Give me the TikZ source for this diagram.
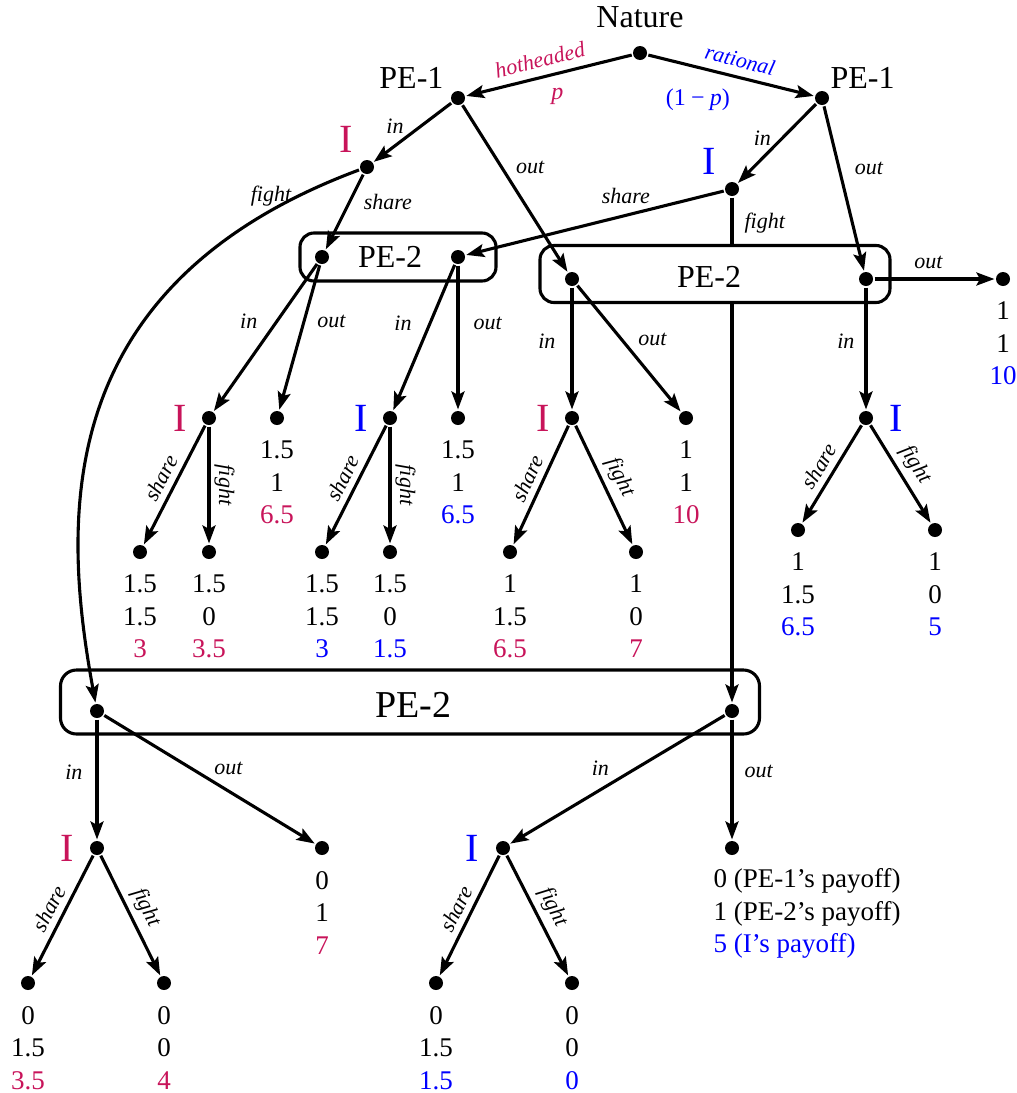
\documentclass[tikz,border=0pt]{standalone}
\usepackage{fontspec}
\setmainfont{Liberation Serif}
\usetikzlibrary{arrows.meta,positioning}
\definecolor{HotRed}{RGB}{200,20,90}
\definecolor{RatBlue}{RGB}{0,0,255}

\begin{document}
\begin{tikzpicture}[
    x=1pt, y=-1pt,
    line width=3.1pt,
    dot/.style={circle, fill, inner sep=0pt, minimum size=14pt},
    player/.style={font=\fontsize{32}{36}\selectfont, inner sep=2pt},
    agent/.style={font=\fontsize{40}{44}\selectfont, inner sep=2pt},
    act/.style={font=\fontsize{22}{26}\selectfont\itshape, inner sep=2pt},
    prob/.style={font=\fontsize{24}{28}\selectfont, inner sep=2pt},
    pay/.style={font=\fontsize{27}{32.5}\selectfont, align=center, inner sep=0pt},
    infoset/.style={draw, rounded corners=14pt, inner sep=0pt},
    arr/.style={-{Stealth[length=18pt, width=13pt, inset=3.5pt]}}
]
\useasboundingbox (0,0) rectangle (1017,1093);

% information sets of PE-2
\node[infoset, minimum width=196pt, minimum height=48pt] (s1) at (398,257) {};
\node[infoset, minimum width=350pt, minimum height=57pt] (s2) at (715,274) {};
\node[infoset, rounded corners=16pt, minimum width=699pt, minimum height=64pt] (s3) at (410,702) {};
\node[player] (s1lab) at ([xshift=-8pt]s1.center) {PE-2};
\node[player] (s2lab) at ([xshift=-6pt, yshift=-3pt]s2.center) {PE-2};
\node[player, font=\fontsize{38}{42}\selectfont] (s3lab) at ([xshift=3pt, yshift=-3pt]s3.center) {PE-2};

% decision and end points
\node[dot] (root) at (640,53) {};
\node[dot] (a) at (458,98) {};
\node[dot] (b) at (822,98) {};
\node[dot] (ia) at (367,167) {};
\node[dot] (ib) at (732,189) {};
\node[dot] (s1l) at (322,257) {};
\node[dot] (s1r) at (458,257) {};
\node[dot] (s2l) at (572,279) {};
\node[dot] (s2r) at (866,279) {};
\node[dot] (t0) at (1003,279) {};
\node[dot] (i1) at (209,418) {};
\node[dot] (o1) at (277,418) {};
\node[dot] (i2) at (390,418) {};
\node[dot] (o2) at (458,418) {};
\node[dot] (i3) at (572,418) {};
\node[dot] (o3) at (686,418) {};
\node[dot] (i4) at (866,418) {};
\node[dot] (l1) at (140,552) {};
\node[dot] (l2) at (209,552) {};
\node[dot] (l3) at (322,552) {};
\node[dot] (l4) at (390,552) {};
\node[dot] (l5) at (510,552) {};
\node[dot] (l6) at (636,552) {};
\node[dot] (l7) at (798,530) {};
\node[dot] (l8) at (935,530) {};
\node[dot] (s3l) at (97,711) {};
\node[dot] (s3r) at (732,711) {};
\node[dot] (i5) at (97,848) {};
\node[dot] (o5) at (322,848) {};
\node[dot] (i6) at (503,848) {};
\node[dot] (o6) at (732,848) {};
\node[dot] (l9) at (28,983) {};
\node[dot] (l10) at (164,983) {};
\node[dot] (l11) at (436,983) {};
\node[dot] (l12) at (572,983) {};

% players
\node[player, above=13pt of root] (natlab) {Nature};
\node[player, above left=0pt and 5pt of a] (alab) {PE-1};
\node[player, above right=0pt and -1pt of b] (blab) {PE-1};
\node[agent, above left=5pt and 5pt of ia, text=HotRed] (ialab) {I};
\node[agent, above left=5pt and 7pt of ib, text=RatBlue] (iblab) {I};
\node[agent, left=10pt of i1, text=HotRed] (i1lab) {I};
\node[agent, left=10pt of i2, text=RatBlue] (i2lab) {I};
\node[agent, left=10pt of i3, text=HotRed] (i3lab) {I};
\node[agent, right=11pt of i4, text=RatBlue] (i4lab) {I};
\node[agent, left=11pt of i5, text=HotRed] (i5lab) {I};
\node[agent, left=12pt of i6, text=RatBlue] (i6lab) {I};

% nature and PE-1
\draw[arr] (root) -- node[act, sloped, above=6pt, pos=.53, text=HotRed] {hotheaded}
    node[prob, pos=.45, below=11pt, text=HotRed] {\textit{p}} (a);
\draw[arr] (root) -- node[act, sloped, above=6pt, pos=.53, text=RatBlue] {rational}
    node[prob, pos=.30, below=18pt, text=RatBlue] {(1\hspace{.22em}−\hspace{.22em}\textit{p})} (b);
\draw[arr] (a) -- node[act, pos=.57, above left] {in} (ia);
\draw[arr] (a) -- node[act, pos=.45, above right=4pt] {out} (s2l);
\draw[arr] (b) -- node[act, pos=.43, left=8pt] {in} (ib);
\draw[arr] (b) -- node[act, pos=.38, right=12pt] {out} (s2r);

% first move of I
\draw[arr] (ia) -- node[act, pos=.37, right=11pt] {share} (s1l);
\draw[arr] (ia) .. controls (50,285) and (62,520) .. node[act, pos=.07, left=4pt] {fight} (s3l);
\draw[arr] (ib) -- node[act, pos=.38, above=8pt] {share} (s1r);
\draw (ib) -- node[act, pos=.55, right=9pt] {fight} (ib |- s2.north);
\draw[arr] (ib |- s2.south) -- (s3r);

% PE-2 moves
\draw[arr] (s1l) -- node[act, pos=.39, left=16pt] {in} (i1);
\draw[arr] (s1l) -- node[act, pos=.39, right=10pt] {out} (o1);
\draw[arr] (s1r) -- node[act, pos=.40, left=15pt] {in} (i2);
\draw[arr] (s1r) -- node[act, pos=.40, right=12pt] {out} (o2);
\draw[arr] (s2l) -- node[act, pos=.44, left=13pt] {in} (i3);
\draw[arr] (s2l) -- node[act, pos=.43, right=13pt] {out} (o3);
\draw[arr] (s2r) -- node[act, pos=.44, left=8pt] {in} (i4);
\draw[arr] (s2r) -- node[act, pos=.45, above=7pt] {out} (t0);
\draw[arr] (s3l) -- node[act, pos=.44, left=11pt] {in} (i5);
\draw[arr] (s3l) -- node[act, pos=.59, above=13pt] {out} (o5);
\draw[arr] (s3r) -- node[act, pos=.58, above=11pt] {in} (i6);
\draw[arr] (s3r) -- node[act, pos=.43, right=9pt] {out} (o6);

% second move of I
\draw[arr] (i1) -- node[act, sloped, above=4pt] {share} (l1);
\draw[arr] (i1) -- node[act, sloped, above=2pt] {fight} (l2);
\draw[arr] (i2) -- node[act, sloped, above=4pt] {share} (l3);
\draw[arr] (i2) -- node[act, sloped, above=2pt] {fight} (l4);
\draw[arr] (i3) -- node[act, sloped, above=4pt] {share} (l5);
\draw[arr] (i3) -- node[act, sloped, above=4pt] {fight} (l6);
\draw[arr] (i4) -- node[act, sloped, above=4pt] {share} (l7);
\draw[arr] (i4) -- node[act, sloped, above=4pt] {fight} (l8);
\draw[arr] (i5) -- node[act, sloped, above=4pt] {share} (l9);
\draw[arr] (i5) -- node[act, sloped, above=4pt] {fight} (l10);
\draw[arr] (i6) -- node[act, sloped, above=4pt] {share} (l11);
\draw[arr] (i6) -- node[act, sloped, above=4pt] {fight} (l12);

% payoffs
\node[pay, below=13pt of t0] (p0) {1\\1\\\textcolor{RatBlue}{10}};
\node[pay, below=13pt of o1] (p1) {1.5\\1\\\textcolor{HotRed}{6.5}};
\node[pay, below=13pt of o2] (p2) {1.5\\1\\\textcolor{RatBlue}{6.5}};
\node[pay, below=13pt of o3] (p3) {1\\1\\\textcolor{HotRed}{10}};
\node[pay, below=13pt of l1] (q1) {1.5\\1.5\\\textcolor{HotRed}{3}};
\node[pay, below=13pt of l2] (q2) {1.5\\0\\\textcolor{HotRed}{3.5}};
\node[pay, below=13pt of l3] (q3) {1.5\\1.5\\\textcolor{RatBlue}{3}};
\node[pay, below=13pt of l4] (q4) {1.5\\0\\\textcolor{RatBlue}{1.5}};
\node[pay, below=13pt of l5] (q5) {1\\1.5\\\textcolor{HotRed}{6.5}};
\node[pay, below=13pt of l6] (q6) {1\\0\\\textcolor{HotRed}{7}};
\node[pay, below=13pt of l7] (q7) {1\\1.5\\\textcolor{RatBlue}{6.5}};
\node[pay, below=13pt of l8] (q8) {1\\0\\\textcolor{RatBlue}{5}};
\node[pay, below=13pt of o5] (p5) {0\\1\\\textcolor{HotRed}{7}};
\node[pay, below=13pt of l9] (q9) {0\\1.5\\\textcolor{HotRed}{3.5}};
\node[pay, below=13pt of l10] (q10) {0\\0\\\textcolor{HotRed}{4}};
\node[pay, below=13pt of l11] (q11) {0\\1.5\\\textcolor{RatBlue}{1.5}};
\node[pay, below=13pt of l12] (q12) {0\\0\\\textcolor{RatBlue}{0}};
\node[pay, align=left, below right=13pt and -26pt of o6] (p6)
    {0 (PE-1's payoff)\\1 (PE-2's payoff)\\\textcolor{RatBlue}{5 (I's payoff)}};
\end{tikzpicture}
\end{document}
